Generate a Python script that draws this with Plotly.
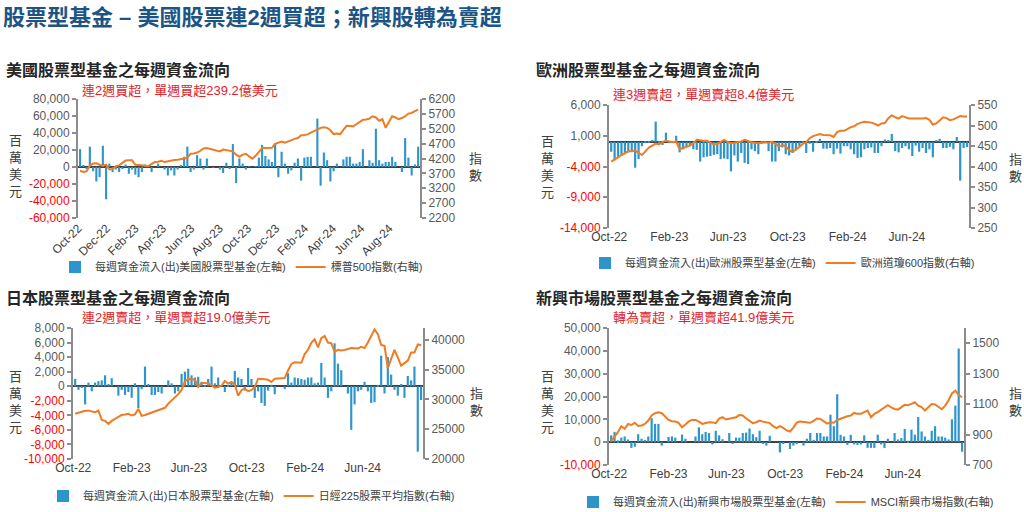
import pandas as pd
import plotly.graph_objects as go

# ---------------- data ----------------
dates = pd.date_range("2022-10-05", periods=105, freq="7D")

us_flow = [21000, 2000, -2000, 24000, -5000, -17000, -12000, 25000, -38000, 4000,
           -6000, -3000, -6000, -2000, 3000, -8000, -3000, -9000, -12000, -6000,
           3000, 2000, -6000, 0, 4000, 0, -3000, -10000, -4000, -10000,
           -3000, 2000, 12000, 24000, -6000, -3000, 14000, 10000, -3000, 10000,
           0, -1000, 0, -3000, -7000, 5000, -2000, 27000, -19000, 10000,
           4000, -3000, 1000, 0, 1000, 11000, 26000, 13000, 9000, 6000,
           28000, -12000, 18000, 4000, -8000, -4000, 5000, 10000, -16000, 11000,
           12000, 12000, 0, 57000, -22000, 17000, 8000, -17000, -5000, 4000,
           0, 9000, 12000, 12000, 4000, 4000, 6000, 21000, 0, 8000,
           5000, 45000, 8000, 4000, 6000, 6000, 12000, 6000, 0, -6000,
           34000, 11000, -10000, 3000, 23920]
sp500 = [3790, 3750, 3770, 3960, 4030, 4040, 3990, 3960, 3990, 3830,
         3850, 3940, 3970, 4050, 4130, 4140, 4140, 3990, 3990, 3970,
         3950, 3940, 4020, 4080, 4090, 4120, 4080, 4110, 4140, 4150,
         4160, 4170, 4200, 4230, 4360, 4370, 4400, 4460, 4540, 4550,
         4520, 4490, 4450, 4440, 4500, 4480, 4470, 4440, 4330, 4260,
         4330, 4360, 4270, 4190, 4290, 4430, 4550, 4550, 4550, 4560,
         4690, 4730, 4770, 4730, 4780, 4820, 4860, 4890, 4980, 4990,
         5010, 5070, 5120, 5180, 5230, 5250, 5230, 5150, 5020, 5040,
         5020, 5160, 5300, 5290, 5280, 5350, 5430, 5500, 5510, 5540,
         5620, 5580, 5470, 5520, 5230, 5450, 5620, 5580, 5520, 5560,
         5620, 5710, 5730, 5790, 5840]

eu_flow = [-1600, -3000, -2500, -2200, -2000, -1700, -1500, -4200, -2800, -700,
           -200, -100, 300, 3300, -300, -500, 1500, -200, -100, 1000,
           -1700, -1200, -800, -600, -1200, -1300, -3200, -2500, -2400, -2300,
           -2100, -2000, -2800, -2700, -2800, -4800, -2200, -3200, -1800, -3400,
           -3600, -1200, -1500, -2000, -300, -200, -1500, -3200, -3200, -1500,
           -900, -2000, -2200, -1800, -1200, -700, -300, -1800, -300, -1600,
           -200, 500, -1100, -1100, -1000, -2000, -1100, -1900, -700, -700,
           -1200, -2000, -2600, -2500, -1200, -1000, -900, -1800, -1800, -700,
           400, 300, 1300, -1500, -1700, -1000, -700, -1200, -2300, -600,
           -1600, -1000, -1800, -1200, -2500, 200, 500, -1000, -1000, -800,
           -1200, 800, -6300, -1000, -840]
stoxx600 = [412, 416, 422, 428, 433, 437, 437, 439, 433, 428,
            437, 446, 451, 456, 454, 460, 463, 461, 459, 461,
            442, 445, 448, 451, 457, 465, 464, 462, 463, 458,
            454, 455, 460, 465, 460, 457, 458, 459, 461, 465,
            462, 459, 458, 457, 458, 459, 458, 460, 455, 449,
            452, 450, 439, 436, 441, 449, 455, 459, 469, 474,
            477, 479, 477, 477, 476, 472, 484, 487, 487, 491,
            496, 498, 504, 507, 509, 508, 507, 504, 500, 505,
            506, 518, 525, 520, 517, 523, 520, 517, 517, 517,
            516, 517, 518, 514, 502, 505, 512, 520, 518, 513,
            515, 520, 523, 522, 522]

jp_flow = [1000, -500, -200, -2500, 500, -700, 500, 700, 800, 1500,
           300, 1100, 0, -1300, -500, -1200, -800, -1600, 400, -3000,
           -400, 2700, 300, -1200, -1200, -800, -1000, 0, 800, 400,
           -1000, -700, 1700, 2000, 2400, 1500, 1200, 1300, 600, 100,
           1000, 2700, 400, 1200, 0, -800, 200, 500, 2100, 1200,
           1000, -600, 2500, 1000, -1600, -700, -2300, -2700, -600, 200,
           -1100, 0, 0, -400, 1800, 500, 1200, 1100, 1000, 900,
           1200, 1200, 400, 500, 3200, 1200, -1600, -700, 5900, 3100,
           2200, 0, -1000, -6000, -2500, -700, -500, 600, -700, -2300,
           -2200, 100, 4200, -1000, 4000, 1600, -500, -1300, 300, -1600,
           1400, 800, 2700, -9000, -1900]
nikkei = [27600, 27790, 27950, 28100, 28120, 27950, 27850, 28120, 26570, 26400,
          25910, 26400, 26740, 27100, 27400, 27460, 27600, 27300, 27500, 28400,
          27240, 27400, 27600, 27850, 28000, 28300, 28500, 28600, 29300, 29800,
          30400, 30900, 31600, 33000, 33450, 33350, 33310, 32100, 32760, 32760,
          32700, 32380, 31990, 32100, 32300, 33090, 32650, 32930, 32540, 30610,
          31550, 31820, 31380, 31550, 32100, 33480, 33480, 33400, 33300, 32930,
          33480, 33550, 33590, 33590, 34860, 35970, 36240, 36160, 36160, 37620,
          38340, 39500, 40110, 38730, 40300, 40660, 39560, 39450, 38010, 38340,
          38230, 38300, 38450, 38620, 38600, 38560, 38840, 38620, 39560, 40660,
          41770, 40940, 39170, 39000, 35250, 36800, 38340, 37070, 35690, 36100,
          36520, 37900, 37900, 39230, 39120]

em_flow = [3000, 4500, 800, 2000, 2500, 1200, -2500, -2000, 3500, 1500,
           1000, 2500, 10500, 8000, 8000, -1500, 0, 2300, 2500, 2000,
           0, 3300, 1500, 0, 0, 2500, 6500, 3500, 4500, 4000,
           -1000, 5000, 3000, 1300, 0, 4000, -800, 2000, 2000, 4000,
           4200, 6000, 3500, 2200, 5000, -800, -1500, 2800, 0, 0,
           -4500, -800, 0, -3000, -1500, -500, 0, -1500, 1500, 4000,
           1000, 4000, 4000, 2500, 2500, 12000, 7000, 21000, 3200, 2500,
           -1200, 3200, -1000, -1200, -1000, 3000, -2500, -2500, -2500, 3300,
           -1000, -2500, 1500, 0, 4000, 1200, 1800, 5800, 600, 5500,
           3300, 11000, 4700, 2500, 1000, 5000, 7000, 2500, 2500, 2000,
           1200, 10000, 16000, 41000, -4190]
msci_em = [857, 883, 916, 955, 938, 970, 963, 977, 957, 960,
           970, 992, 1025, 1040, 1047, 1040, 1018, 996, 988, 986,
           977, 948, 966, 986, 996, 996, 985, 970, 976, 981,
           980, 975, 1005, 1014, 999, 1005, 1012, 1014, 1028, 1025,
           1005, 990, 975, 981, 992, 985, 980, 975, 955, 942,
           955, 944, 927, 920, 946, 978, 986, 983, 981, 977,
           990, 1006, 1003, 986, 972, 981, 978, 996, 1005, 1015,
           1020, 1025, 1042, 1036, 1036, 1047, 1058, 1014, 1036, 1048,
           1065, 1080, 1093, 1079, 1068, 1064, 1080, 1095, 1092, 1101,
           1112, 1090, 1080, 1058, 1082, 1101, 1098, 1079, 1066, 1090,
           1125, 1170, 1188, 1160, 1145]

main_title = "股票型基金 – 美國股票連2週買超；新興股轉為賣超"
panel_titles = ["美國股票型基金之每週資金流向", "歐洲股票型基金之每週資金流向",
                "日本股票型基金之每週資金流向", "新興市場股票型基金之每週資金流向"]
panel_notes = ["連2週買超，單週買超239.2億美元", "連3週賣超，單週賣超8.4億美元",
               "連2週賣超，單週賣超19.0億美元", "轉為賣超，單週賣超41.9億美元"]
bar_names = ["每週資金流入(出)美國股票型基金(左軸)", "每週資金流入(出)歐洲股票型基金(左軸)",
             "每週資金流入(出)日本股票型基金(左軸)", "每週資金流入(出)新興市場股票型基金(左軸)"]
line_names = ["標普500指數(右軸)", "歐洲道瓊600指數(右軸)",
              "日經225股票平均指數(右軸)", "MSCI新興市場指數(右軸)"]

# month labels shown on each time axis
ticks_2m = pd.date_range("2022-10-01", "2024-08-01", freq="2MS")
ticks_4m = pd.date_range("2022-10-01", "2024-06-01", freq="4MS")

left_ranges = [(-60000, 80000, 20000), (-14000, 6000, 5000), (-10000, 8000, 2000), (-10000, 50000, 10000)]
right_ranges = [(2200, 6200, 500), (250, 550, 50), (20000, 42000, 5000), (700, 1600, 200)]

flows = [us_flow, eu_flow, jp_flow, em_flow]
indices = [sp500, stoxx600, nikkei, msci_em]

# ---------------- layout geometry (pixels) ----------------
W, H = 1024, 512
boxes = [(78, 420, 99, 218), (609, 969, 105, 228), (73, 423, 328, 459), (609, 964, 328, 465)]
title_pos = [(4, 70), (534, 70), (4, 298), (534, 298)]
note_pos = [(80, 90), (611, 94), (80, 317), (611, 317)]
unit_pos = [(15, 166), (547, 167), (15, 402), (547, 402)]
idx_pos = [(475, 167), (1015, 168), (476, 402), (1015, 402)]
legend_pos = [(55, 267), (585, 263), (43, 496), (573, 502)]

BAR = "#2E95CA"
LINE = "#EF7B22"
AX = "#8C8C8C"
TXT = "#595959"
FONT = "Liberation Sans, Arial, Noto Sans CJK TC"

fig = go.Figure()
layout = dict(width=W, height=H, margin=dict(l=0, r=0, t=0, b=0, autoexpand=False), autosize=False,
              paper_bgcolor="white", plot_bgcolor="rgba(0,0,0,0)",
              font=dict(family=FONT, color=TXT, size=12), showlegend=True,
              bargap=0.35)
annotations = []

x_start = pd.Timestamp("2022-09-30 12:00")
x_end = dates[-1] + pd.Timedelta(days=4)

for k in range(4):
    x0, x1, yt, yb = boxes[k]
    xs = "" if k == 0 else str(k + 1)
    yl = "" if k == 0 else str(2 * k + 1)
    yr = str(2 * k + 2)
    leg = "legend" if k == 0 else "legend" + str(k + 1)

    fig.add_trace(go.Bar(x=dates, y=flows[k], name=bar_names[k], marker=dict(color=BAR, line=dict(width=0)),
                         xaxis="x" + xs, yaxis="y" + yl, legend=leg))
    fig.add_trace(go.Scatter(x=dates, y=indices[k], name=line_names[k], mode="lines",
                             line=dict(color=LINE, width=2), xaxis="x" + xs, yaxis="y" + yr, legend=leg))

    tks = ticks_2m if k == 0 else ticks_4m
    dom_x = [x0 / W, x1 / W]
    dom_y = [1 - yb / H, 1 - yt / H]
    layout["xaxis" + xs] = dict(domain=dom_x, anchor="y" + yl, type="date",
                                range=[x_start, x_end], tickvals=list(tks),
                                ticktext=[d.strftime("%b-%y") for d in tks],
                                tickangle=-45 if k == 0 else 0,
                                showgrid=False, showline=False, zeroline=False, ticks="",
                                tickfont=dict(size=12, color="#404040"))
    lo, hi, st = left_ranges[k]
    tv = list(range(lo, hi + 1, st))
    tt = [f'<span style="color:#FF0000">{v:,}</span>' if v < 0 else f"{v:,}" for v in tv]
    layout["yaxis" + yl] = dict(domain=dom_y, anchor="x" + xs, range=[lo, hi], tickvals=tv, ticktext=tt,
                                showgrid=False, showline=True, linecolor=AX, linewidth=2,
                                ticks="outside", ticklen=4, tickcolor=AX, tickwidth=1.5,
                                zeroline=True, zerolinecolor="#404040", zerolinewidth=1.5,
                                tickfont=dict(size=12, color=TXT))
    rlo, rhi, rst = right_ranges[k]
    layout["yaxis" + yr] = dict(overlaying="y" + yl, anchor="x" + xs, side="right",
                                range=[rlo, rhi], tick0=rlo, dtick=rst, tickformat="d",
                                showgrid=False, showline=True, linecolor=AX, linewidth=2,
                                ticks="outside", ticklen=4, tickcolor=AX, tickwidth=1.5,
                                zeroline=False, tickfont=dict(size=12, color=TXT))
    lx, ly = legend_pos[k]
    layout[leg] = dict(x=lx / W, y=1 - ly / H, xanchor="left", yanchor="middle",
                       orientation="h", bgcolor="rgba(0,0,0,0)", itemwidth=30,
                       font=dict(size=11, color="#404040"), tracegroupgap=0)

    tx, ty = title_pos[k]
    annotations.append(dict(text="<b>" + panel_titles[k] + "</b>", x=tx / W, y=1 - ty / H,
                            xref="paper", yref="paper", xanchor="left", yanchor="middle",
                            showarrow=False, font=dict(size=16, color="#262626")))
    nx, ny = note_pos[k]
    annotations.append(dict(text=panel_notes[k], x=nx / W, y=1 - ny / H,
                            xref="paper", yref="paper", xanchor="left", yanchor="middle",
                            showarrow=False, font=dict(size=13, color="#E0242B")))
    ux, uy = unit_pos[k]
    annotations.append(dict(text="百<br>萬<br>美<br>元", x=ux / W, y=1 - uy / H,
                            xref="paper", yref="paper", xanchor="center", yanchor="middle",
                            showarrow=False, font=dict(size=13, color="#404040")))
    ix, iy = idx_pos[k]
    annotations.append(dict(text="指<br>數", x=ix / W, y=1 - iy / H,
                            xref="paper", yref="paper", xanchor="center", yanchor="middle",
                            showarrow=False, font=dict(size=13, color="#404040")))

annotations.append(dict(text="<b>" + main_title + "</b>", x=1 / W, y=1 - 17 / H,
                        xref="paper", yref="paper", xanchor="left", yanchor="middle",
                        showarrow=False, font=dict(size=22, color="#1C5485")))
layout["annotations"] = annotations
fig.update_layout(**layout)
fig.write_html("out.html", config={"displayModeBar": False},
               post_script="document.body.style.margin='0px';document.body.style.overflow='hidden';")
